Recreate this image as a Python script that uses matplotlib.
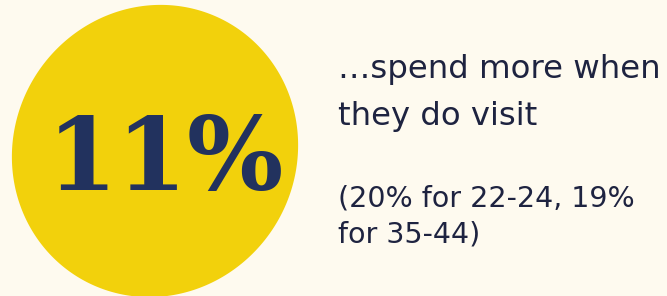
import numpy as np
import matplotlib
matplotlib.use("Agg")
import matplotlib.pyplot as plt
from matplotlib.patches import Polygon

headline_value = "11%"
main_lines = ["…spend more when", "they do visit"]
detail_lines = ["(20% for 22-24, 19%", "for 35-44)"]

BG = "#FEFAEF"
YELLOW = "#F2D10C"
NAVY = "#22325E"
TEXT = "#1E2340"

W, H = 667, 296
fig = plt.figure(figsize=(W / 100, H / 100), dpi=100, facecolor=BG)
ax = fig.add_axes([0, 0, 1, 1])
ax.set_xlim(0, W)
ax.set_ylim(H, 0)
ax.axis("off")
ax.set_facecolor(BG)

# organic blob shape (slightly flattened top-left / bottom-right)
cx, cy = 155, 151
t = np.linspace(0, 2 * np.pi, 400)
r = 1.0 - 0.02 * np.cos(2 * (t - 5 * np.pi / 4))
xs = cx + 143 * r * np.cos(t)
ys = cy + 146 * r * np.sin(t)
ax.add_patch(Polygon(np.column_stack([xs, ys]), closed=True, fc=YELLOW, ec="none"))

ax.text(165, 190, headline_value, fontsize=73, fontweight="bold",
        family="DejaVu Serif", color=NAVY, ha="center", va="baseline")

ax.text(338, 78, main_lines[0], fontsize=23.3, color=TEXT, ha="left", va="baseline")
ax.text(338, 125, main_lines[1], fontsize=23.3, color=TEXT, ha="left", va="baseline")
ax.text(338, 207, detail_lines[0], fontsize=20.5, color=TEXT, ha="left", va="baseline")
ax.text(338, 243, detail_lines[1], fontsize=20.5, color=TEXT, ha="left", va="baseline")

fig.savefig("out.png", dpi=100, facecolor=BG)
